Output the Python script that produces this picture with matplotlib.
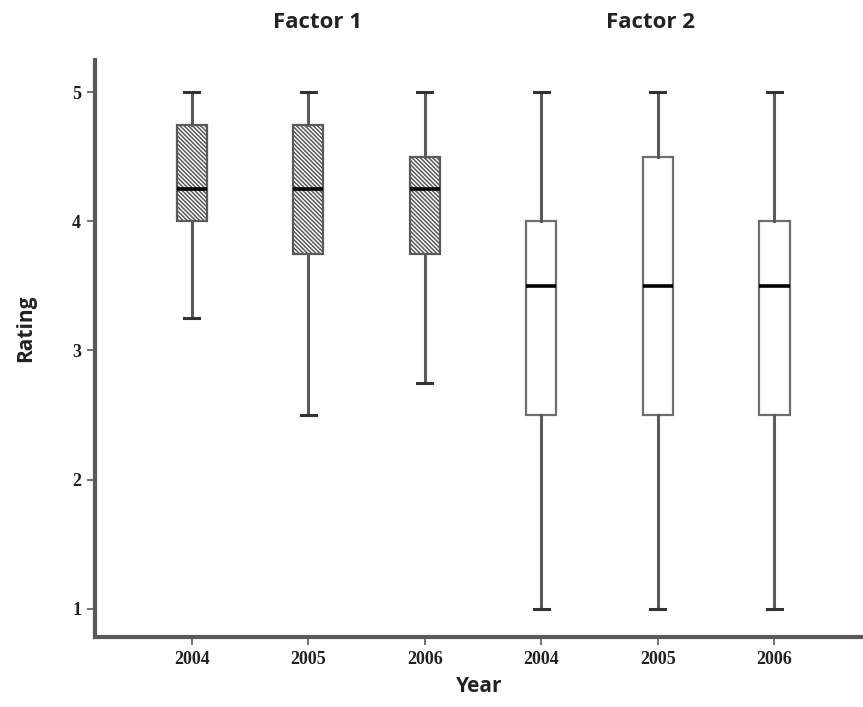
import matplotlib
matplotlib.use("Agg")
import matplotlib.pyplot as plt

# box summaries (ratings 1-5)
years = ["2004", "2005", "2006", "2004", "2005", "2006"]
whislo = [3.25, 2.5, 2.75, 1.0, 1.0, 1.0]
q1 = [4.0, 3.75, 3.75, 2.5, 2.5, 2.5]
med = [4.25, 4.25, 4.25, 3.5, 3.5, 3.5]
q3 = [4.75, 4.75, 4.5, 4.0, 4.5, 4.0]
whishi = [5.0, 5.0, 5.0, 5.0, 5.0, 5.0]
factor = [1, 1, 1, 2, 2, 2]
group_titles = ["Factor 1", "Factor 2"]

plt.rcParams["hatch.color"] = "#3a3a3a"
plt.rcParams["hatch.linewidth"] = 1.1

fig = plt.figure(figsize=(8.63, 7.07), dpi=100)
ax = fig.add_axes([0.110, 0.099, 0.890, 0.816])

stats = []
for i in range(len(years)):
    stats.append(dict(whislo=whislo[i], q1=q1[i], med=med[i], q3=q3[i],
                      whishi=whishi[i], fliers=[], label=years[i]))

positions = list(range(1, len(years) + 1))
bp = ax.bxp(stats, positions=positions, widths=0.26, patch_artist=True,
            showfliers=False,
            boxprops=dict(edgecolor="#5a5a5a", linewidth=1.6),
            whiskerprops=dict(color="#5a5a5a", linewidth=2.2),
            capprops=dict(color="#333333", linewidth=2.2),
            medianprops=dict(color="black", linewidth=2.6))
for cap in bp["caps"]:
    x0, x1 = cap.get_xdata()
    c = (x0 + x1) / 2
    cap.set_xdata([c - 0.065, c + 0.065])
for box, f in zip(bp["boxes"], factor):
    box.set_facecolor("white")
    if f == 1:
        box.set_hatch("\\" * 8)
    else:
        box.set_edgecolor("#6e6e6e")

ax.set_xlim(0.17, 6.76)
ax.set_ylim(0.78, 5.25)
ax.set_yticks([1, 2, 3, 4, 5])
ax.set_xticks(positions)
ax.set_xticklabels(years)

for s in ["top", "right"]:
    ax.spines[s].set_visible(False)
for s in ["left", "bottom"]:
    ax.spines[s].set_color("#5a5a5a")
    ax.spines[s].set_linewidth(3)
ax.tick_params(direction="out", length=6, width=1.2, color="#5a5a5a",
               labelsize=13, pad=4)
for lab in ax.get_xticklabels() + ax.get_yticklabels():
    lab.set_family("Liberation Serif")
    lab.set_fontweight("bold")
    lab.set_color("#222222")

ax.set_ylabel("Rating", fontsize=15, fontweight="bold", family="Open Sans",
              color="#222222")
ax.yaxis.set_label_coords(-0.076, 0.535)
ax.set_xlabel("Year", fontsize=15, fontweight="bold", family="Open Sans",
              labelpad=6, color="#222222")

for x, t in zip([317, 650], group_titles):
    fig.text(x / 863, 1 - 22 / 707, t, ha="center", va="center",
             fontsize=16, fontweight="bold", family="Open Sans",
             color="#222222")

fig.savefig("out.png", dpi=100)
